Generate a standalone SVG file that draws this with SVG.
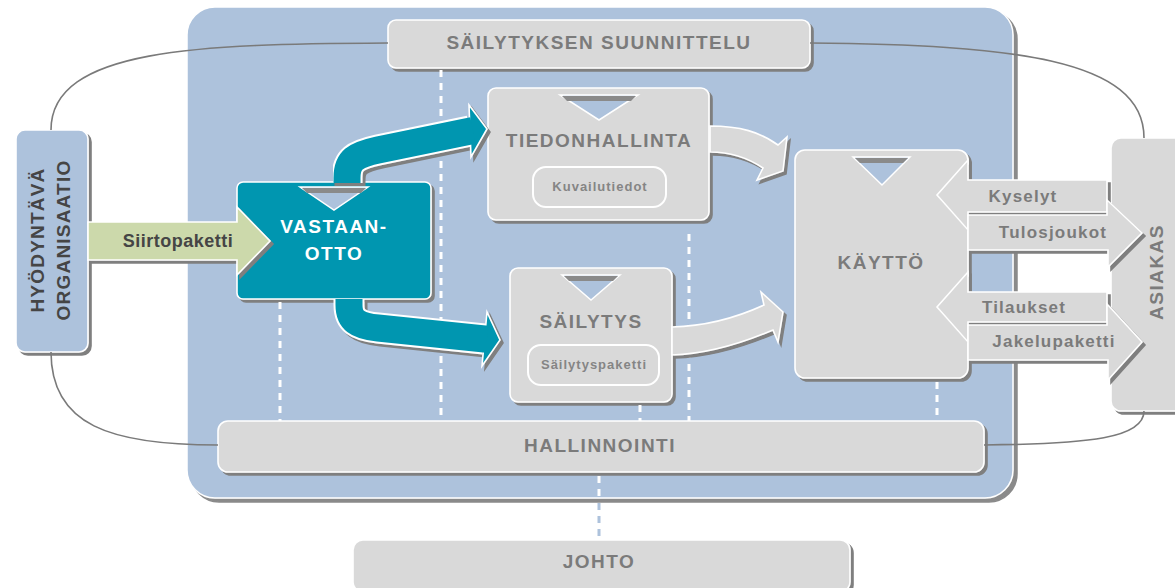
<svg xmlns="http://www.w3.org/2000/svg" width="1175" height="588" viewBox="0 0 1175 588">
<defs>
<filter id="sh" x="-10%" y="-10%" width="130%" height="130%">
<feDropShadow dx="3" dy="3" stdDeviation="0.6" flood-color="#7f7f7f" flood-opacity="1"/>
</filter>
<filter id="sh4" x="-5%" y="-5%" width="115%" height="115%">
<feDropShadow dx="4" dy="4" stdDeviation="0.6" flood-color="#8a8a8a" flood-opacity="1"/>
</filter>
</defs>
<style>
.box{fill:#d9d9d9;stroke:#fff;stroke-width:1.6;filter:url(#sh)}
.bluebox{fill:#adc2dc;stroke:#fff;stroke-width:1.6;filter:url(#sh)}
.teal{fill:#0096b0;stroke:#fff;stroke-width:1.6}
.pill{fill:#d9d9d9;stroke:#fff;stroke-width:2}
.tri{fill:#adc2dc;stroke:#fff;stroke-width:1.5}
.strip{fill:#8a8a8a}
.t{font-family:"Liberation Sans",Arial,sans-serif;font-weight:bold;text-anchor:middle}
.big{font-size:19px;letter-spacing:1.5px;fill:#7b7b7b}
.small{font-size:13px;letter-spacing:1px;fill:#858585}
.lbl{font-size:17px;letter-spacing:1.2px;fill:#7b7b7b}
.dark{fill:#454545}
.white{fill:#fff}
.line{fill:none;stroke:#7a7a7a;stroke-width:1.6}
.dash{fill:none;stroke:#fff;stroke-width:3;stroke-dasharray:7 6}
.dashb{fill:none;stroke:#adc2dc;stroke-width:3;stroke-dasharray:7 6}
.garrow{fill:#d9d9d9;stroke:#fff;stroke-width:1.6;filter:url(#sh)}
</style>

<!-- container panel -->
<g id="panel">
<rect x="187" y="7" width="826" height="491" rx="28" fill="#adc2dc" stroke="#fff" stroke-width="1.5" filter="url(#sh4)"/>
</g>

<g id="node-suunnittelu">
<rect class="box" x="388" y="20" width="422" height="48" rx="8"/>
<text class="t big" x="599" y="49">SÄILYTYKSEN SUUNNITTELU</text>
</g>

<g id="node-hyodyntava">
<rect class="bluebox" x="16" y="130" width="72" height="222" rx="9"/>
<text class="t dark" font-size="19" letter-spacing="1.2" transform="translate(44,240) rotate(-90)">HYÖDYNTÄVÄ</text>
<text class="t dark" font-size="19" letter-spacing="1.2" transform="translate(70,240) rotate(-90)">ORGANISAATIO</text>
</g>

<g id="node-vastaanotto">
<rect class="teal" x="237" y="182" width="194" height="117" rx="6" filter="url(#sh)"/>
<polygon class="tri" points="300,187 368,187 334,210"/>
<polygon class="strip" points="302,188 366,188 361,193 307,193"/>
<text class="t white" font-size="19" letter-spacing="1.5" x="334" y="233">VASTAAN-</text>
<text class="t white" font-size="19" letter-spacing="1.5" x="334" y="260">OTTO</text>
</g>

<g id="node-tiedonhallinta">
<rect class="box" x="488" y="88" width="221" height="132" rx="8"/>
<polygon class="tri" points="560,95 638,95 599,120"/>
<polygon class="strip" points="562,96 636,96 631,101 567,101"/>
<text class="t big" x="599" y="147">TIEDONHALLINTA</text>
<rect class="pill" x="533" y="167" width="133" height="40" rx="13"/>
<text class="t small" x="600" y="191">Kuvailutiedot</text>
</g>

<g id="node-sailytys">
<rect class="box" x="510" y="268" width="162" height="134" rx="8"/>
<polygon class="tri" points="562,275 620,275 591,300"/>
<polygon class="strip" points="564,276 618,276 613,281 569,281"/>
<text class="t big" x="591" y="328">SÄILYTYS</text>
<rect class="pill" x="528" y="345" width="131" height="40" rx="13"/>
<text class="t small" x="594" y="369">Säilytyspaketti</text>
</g>

<g id="node-kaytto">
<rect class="box" x="795" y="150" width="173" height="228" rx="10"/>
<polygon class="tri" points="853,157 910,157 882,185"/>
<polygon class="strip" points="855,158 908,158 903,163 860,163"/>
<text class="t big" x="881" y="269">KÄYTTÖ</text>
</g>

<g id="node-asiakas">
<rect class="box" x="1111" y="138" width="80" height="273" rx="10"/>
<text class="t big" transform="translate(1163,272) rotate(-90)">ASIAKAS</text>
</g>

<g id="node-hallinnointi">
<rect class="box" x="218" y="421" width="766" height="51" rx="10"/>
<text class="t big" x="600" y="452">HALLINNOINTI</text>
</g>

<g id="node-johto">
<rect class="box" x="353" y="540" width="497" height="52" rx="10"/>
<text class="t big" x="599" y="568">JOHTO</text>
</g>

<g id="connectors">
<!-- dashed links -->
<line class="dash" x1="441" y1="70" x2="441" y2="421"/>
<line class="dash" x1="280" y1="302" x2="280" y2="421"/>
<line class="dash" x1="689" y1="234" x2="689" y2="421"/>
<line class="dash" x1="640" y1="405" x2="640" y2="421"/>
<line class="dash" x1="937" y1="382" x2="937" y2="421"/>
<line class="dash" x1="599" y1="476" x2="599" y2="497"/>
<line class="dashb" x1="599" y1="503" x2="599" y2="540"/>
<!-- grey curves -->
<path class="line" d="M388,43 C200,44 51,48 51,130"/>
<path class="line" d="M810,43 C1010,45 1144,58 1144,138"/>
<path class="line" d="M51,352 C51,425 110,445 218,445"/>
<path class="line" d="M984,445 C1090,444 1144,438 1144,411"/>
<!-- Siirtopaketti -->
<g filter="url(#sh)">
<path d="M88,222 L237,222 L237,207 L270,241 L237,275 L237,260 L88,260 Z" fill="#ccd9ab" stroke="#fff" stroke-width="1.6"/>
</g>
<text class="t dark" font-size="18" letter-spacing="0.5" x="178" y="247">Siirtopaketti</text>
<!-- teal arrows -->
<g filter="url(#sh)">
<path d="M347,183 L347,178 C347,160 355,155 378,150 L470,131" fill="none" stroke="#fff" stroke-width="31"/>
<polygon points="469,105 487,129 471,157" fill="#0096b0" stroke="#fff" stroke-width="1.6"/>
<path d="M347,183 L347,178 C347,160 355,155 378,150 L473,130.5" fill="none" stroke="#0096b0" stroke-width="27"/>
</g>
<g filter="url(#sh)">
<path d="M349,299 L349,305 C349,320 357,326 378,328 L484,339" fill="none" stroke="#fff" stroke-width="31"/>
<polygon points="487,312 500,340 482,366" fill="#0096b0" stroke="#fff" stroke-width="1.6"/>
<path d="M349,299 L349,305 C349,320 357,326 378,328 L487,339.3" fill="none" stroke="#0096b0" stroke-width="27"/>
</g>
<!-- grey flow arrows -->
<path class="garrow" d="M710,126 C740,126 760,132 778,145 L787,137 L783,171 L757,180 L763,168 C748,158 732,152 710,152 Z"/>
<path class="garrow" d="M672,327 C710,326 740,316 764,305 L761,292 L783,312 L778,342 L773,330 C745,342 710,354 672,355 Z"/>
<!-- KÄYTTÖ / ASIAKAS arrows -->
<path class="garrow" d="M1107,180 L1107,212 L968,212 L968,230 L937,195 L968,160 L968,180 Z"/>
<path class="garrow" d="M968,215 L1107,215 L1107,200 L1142,233 L1108,267 L1108,250 L968,250 Z"/>
<path class="garrow" d="M1107,292 L1107,322 L968,322 L968,342 L937,307 L968,272 L968,292 Z"/>
<path class="garrow" d="M968,325 L1107,325 L1107,304 L1142,342 L1108,380 L1108,360 L968,360 Z"/>
<text class="t lbl" x="1023" y="202">Kyselyt</text>
<text class="t lbl" x="1053" y="238">Tulosjoukot</text>
<text class="t lbl" x="1024" y="313">Tilaukset</text>
<text class="t lbl" x="1054" y="347">Jakelupaketti</text>
</g>
</svg>
